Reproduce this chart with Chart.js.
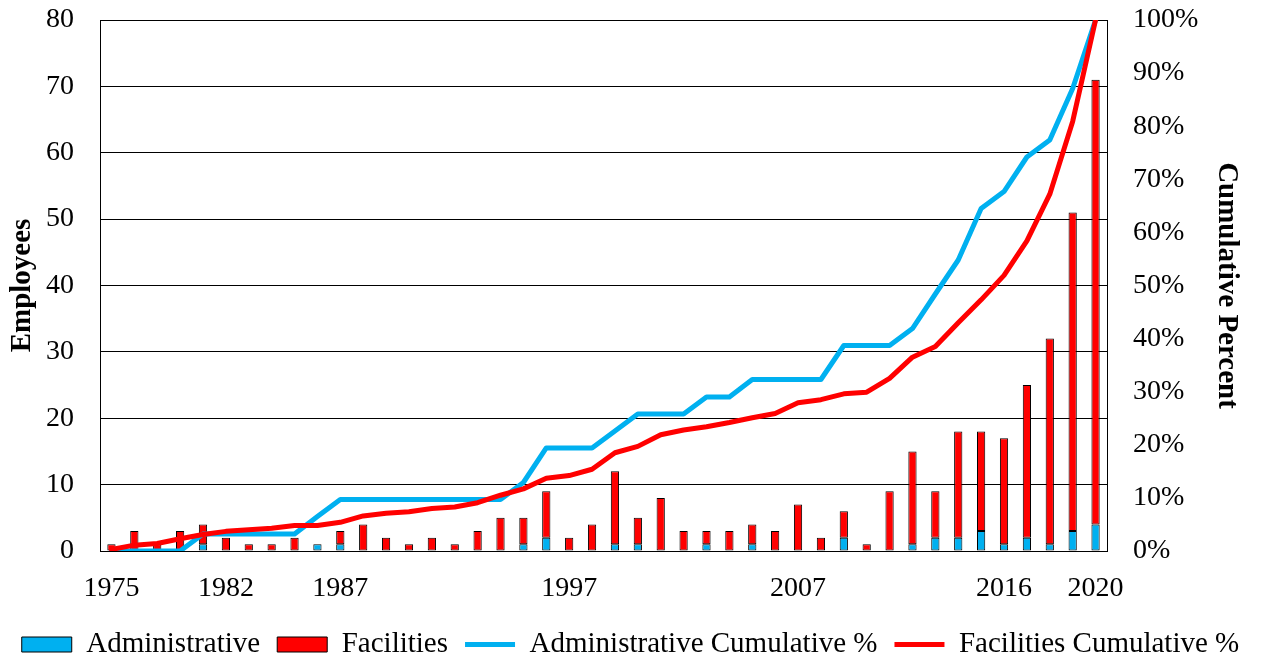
<!DOCTYPE html>
<html>
<head>
<meta charset="utf-8">
<script src="https://cdn.jsdelivr.net/npm/chart.js@4.4.1/dist/chart.umd.min.js"></script>
<style>
  html, body { margin: 0; padding: 0; background: #fff; }
  #wrap { width: 1261px; height: 659px; }
</style>
</head>
<body>
<div id="wrap"><canvas id="chart" width="1261" height="659"></canvas></div>
<script>
// categories (hire years), only some of them carry a label on the axis
var years = ['1975','1977','1978','1980','1981','1982','1983','1984','1985','1986',
  '1987','1988','1989','1990','1991','1992','1993','1994','1995','1996',
  '1997','1998','1999','2000','2001','2002','2003','2004','2005','2006',
  '2007','2008','2009','2010','2011','2012','2013','2014','2015','2016',
  '2017','2018','2019','2020'];
var shownYears = ['1975','1982','1987','1997','2007','2016','2020'];

// employees per year
var administrative = [0,0,0,0,1, 0,0,0,0,1, 1,0,0,0,0, 0,0,0,1,2,
  0,0,1,1,0, 0,1,0,1,0, 0,0,2,0,0, 1,2,2,3,1, 2,1,3,4];
var facilities = [1,3,1,3,3, 2,1,1,2,0, 2,4,2,1,2, 1,3,5,4,7,
  2,4,11,4,8, 3,2,3,3,3, 7,2,4,1,9, 14,7,16,15,16, 23,31,48,67];

// cumulative percent
var adminCumPct = [0,0,0,0,3.2, 3.2,3.2,3.2,3.2,6.5, 9.7,9.7,9.7,9.7,9.7, 9.7,9.7,9.7,12.9,19.4,
  19.4,19.4,22.6,25.8,25.8, 25.8,29.0,29.0,32.3,32.3, 32.3,32.3,38.7,38.7,38.7, 41.9,48.4,54.8,64.5,67.7,
  74.2,77.4,87.1,100];
var facilCumPct = [0.3,1.1,1.4,2.3,3.1, 3.7,4.0,4.3,4.8,4.8, 5.4,6.6,7.1,7.4,8.0, 8.3,9.1,10.5,11.7,13.7,
  14.2,15.4,18.5,19.7,21.9, 22.8,23.4,24.2,25.1,25.9, 27.9,28.5,29.6,29.9,32.5, 36.5,38.5,43.0,47.3,51.9,
  58.4,67.2,80.9,100];

var serif = '"Liberation Serif", "Times New Roman", serif';
var blue = '#00B0F0';
var red = '#FF0000';

// fixed axis widths; tick padding should not push the plot down
function fitLeft(scale) { scale.width = 100; scale.paddingTop = 17; scale.paddingBottom = 17; }
function fitRight(scale) { scale.width = 154; scale.paddingTop = 17; scale.paddingBottom = 17; }

var ctx = document.getElementById('chart').getContext('2d');

var chart = new Chart(ctx, {
  type: 'bar',
  data: {
    labels: years,
    datasets: [{
      label: 'Administrative',
      data: administrative,
      backgroundColor: blue,
      borderColor: '#000',
      borderWidth: 1,
      borderSkipped: false,
      pointStyle: 'rect',
      yAxisID: 'y',
      order: 2
    }, {
      label: 'Facilities',
      data: facilities,
      backgroundColor: red,
      borderColor: '#000',
      borderWidth: 1,
      borderSkipped: false,
      pointStyle: 'rect',
      yAxisID: 'y',
      order: 3
    }, {
      type: 'line',
      label: 'Administrative Cumulative %',
      data: adminCumPct,
      borderColor: blue,
      backgroundColor: blue,
      borderWidth: 5,
      borderCapStyle: 'round',
      borderJoinStyle: 'round',
      pointRadius: 0,
      pointStyle: 'line',
      tension: 0,
      fill: false,
      yAxisID: 'y2',
      order: 1
    }, {
      type: 'line',
      label: 'Facilities Cumulative %',
      data: facilCumPct,
      borderColor: red,
      backgroundColor: red,
      borderWidth: 5,
      borderCapStyle: 'round',
      borderJoinStyle: 'round',
      pointRadius: 0,
      pointStyle: 'line',
      tension: 0,
      fill: false,
      yAxisID: 'y2',
      order: 0
    }]
  },
  options: {
    responsive: false,
    animation: false,
    layout: { padding: { top: 20, left: 0, right: 0, bottom: -10 } },
    datasets: {
      bar: { barPercentage: 0.36, categoryPercentage: 1 }
    },
    plugins: {
      tooltip: { enabled: false },
      legend: {
        position: 'bottom',
        labels: {
          usePointStyle: true,
          pointStyleWidth: 50,
          boxHeight: 15,
          padding: 17,
          color: '#000',
          font: { family: serif, size: 29 },
          sort: function (a, b) { return a.datasetIndex - b.datasetIndex; }
        }
      }
    },
    scales: {
      x: {
        stacked: true,
        offset: true,
        grid: { display: false },
        border: { display: true, color: '#000', width: 1 },
        ticks: {
          autoSkip: false,
          maxRotation: 0,
          padding: 13,
          color: '#000',
          font: { family: serif, size: 28 },
          callback: function (value, index) {
            var y = years[index];
            return shownYears.indexOf(y) >= 0 ? y : '';
          }
        },
        afterFit: function (scale) { scale.height = 62; }
      },
      y: {
        position: 'left',
        stacked: true,
        min: 0,
        max: 80,
        grid: { color: '#000', lineWidth: 1, drawTicks: false },
        border: { display: true, color: '#000', width: 1 },
        ticks: {
          stepSize: 10,
          padding: 26,
          color: '#000',
          font: { family: serif, size: 28 }
        },
        title: {
          display: true,
          text: 'Employees',
          color: '#000',
          padding: { top: 5, bottom: 0 },
          font: { family: serif, size: 29, weight: 'bold' }
        },
        afterFit: fitLeft
      },
      y2: {
        position: 'right',
        min: 0,
        max: 100,
        grid: { drawOnChartArea: false, drawTicks: false },
        border: { display: true, color: '#000', width: 1 },
        ticks: {
          stepSize: 10,
          padding: 26,
          color: '#000',
          font: { family: serif, size: 28 },
          callback: function (v) { return v + '%'; }
        },
        title: {
          display: true,
          text: 'Cumulative Percent',
          color: '#000',
          padding: { top: 17, bottom: 0 },
          font: { family: serif, size: 29, weight: 'bold' }
        },
        afterFit: fitRight
      }
    }
  }
});
</script>
</body>
</html>
